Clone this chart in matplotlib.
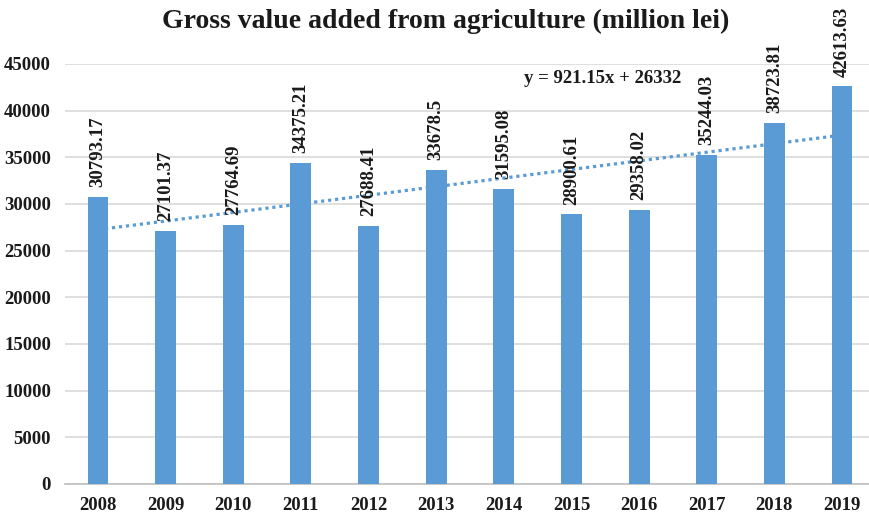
import matplotlib
matplotlib.use("Agg")
import matplotlib.pyplot as plt
import numpy as np

years = ["2008", "2009", "2010", "2011", "2012", "2013", "2014", "2015", "2016", "2017", "2018", "2019"]
values = [30793.17, 27101.37, 27764.69, 34375.21, 27688.41, 33678.5, 31595.08, 28900.61, 29358.02, 35244.03, 38723.81, 42613.63]
value_labels = ["30793.17", "27101.37", "27764.69", "34375.21", "27688.41", "33678.5", "31595.08", "28900.61", "29358.02", "35244.03", "38723.81", "42613.63"]
trend_slope = 921.15
trend_intercept = 26332
yticks = [0, 5000, 10000, 15000, 20000, 25000, 30000, 35000, 40000, 45000]

plt.rcParams['font.family'] = ['Liberation Serif', 'DejaVu Serif']
plt.rcParams['font.weight'] = 'bold'

bar_color = '#5B9BD5'
fig = plt.figure(figsize=(8.7, 5.13), dpi=100)
ax = fig.add_axes([65/870, 29/513, 805/870, 420/513])

x = np.arange(len(years))
ax.bar(x, values, width=0.31, color=bar_color, zorder=3)

trend = trend_slope * (x + 1) + trend_intercept
ax.plot(x, trend, linestyle=(0, (1, 1.2)), color=bar_color, linewidth=2.3, zorder=2)

for xi, v, lab in zip(x, values, value_labels):
    ax.annotate(lab, (xi, v), xytext=(0, 7), textcoords='offset points',
                rotation=90, ha='center', va='bottom', fontsize=13.5,
                fontweight='bold', color='#1a1a1a', zorder=4)

ax.text(0.668, 0.965, "y = 921.15x + 26332", transform=ax.transAxes,
        fontsize=13.5, fontweight='bold', ha='center', va='center', color='#1a1a1a')

ax.set_xlim(-0.488, 11.414)
ax.set_ylim(0, 45000)
ax.set_yticks(yticks)
ax.set_yticklabels([str(t) for t in yticks])
ax.set_xticks(x)
ax.set_xticklabels(years)
ax.tick_params(axis='both', length=0, labelsize=13.5, colors='#1a1a1a')
ax.tick_params(axis='y', pad=10)
ax.tick_params(axis='x', pad=9)
for lab in ax.get_xticklabels() + ax.get_yticklabels():
    lab.set_fontweight('bold')

ax.grid(axis='y', color='#D9D9D9', linewidth=1.2, zorder=0)
for s in ['top', 'right', 'left']:
    ax.spines[s].set_visible(False)
ax.spines['bottom'].set_color('#BFBFBF')
ax.spines['bottom'].set_linewidth(1.2)

fig.text(0.512, 0.958, "Gross value added from agriculture (million lei)",
         ha='center', va='center', fontsize=20, fontweight='bold', color='#1a1a1a')

fig.savefig("out.png", dpi=100)
